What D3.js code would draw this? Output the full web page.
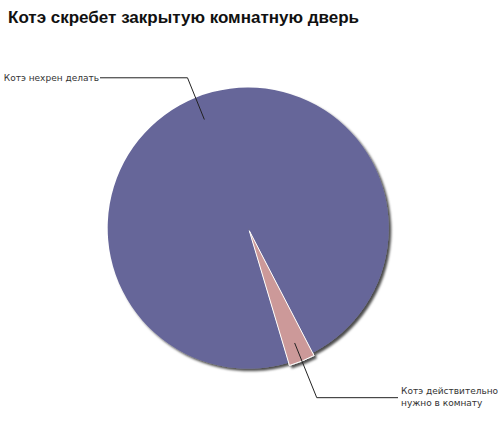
<!DOCTYPE html>
<html>
<head>
<meta charset="utf-8">
<script src="https://cdn.jsdelivr.net/npm/d3@7"></script>
<style>
  body { margin: 0; background: #fff; }
  svg { display: block; }
</style>
</head>
<body>
<svg id="chart" width="500" height="422"></svg>
<script>
// data
var titleText = "Котэ скребет закрытую комнатную дверь";
var categories = ["Котэ нехрен делать", "Котэ действительно нужно в комнату"];
var values = [97, 3];
var colors = ["#666699", "#cc9999"];
var exploded = [0, 3];
// label lines: where the leader leaves the slice, where it bends, where the text goes
var labelInner = [117, 124];
var labelBend = [162, 183];
var labelEndX = [100, 398];

var width = 500, height = 422;
var cx = 248.2, cy = 228, radius = 140.5;
var startDeg = 163.4;

var svg = d3.select("#chart");

var defs = svg.append("defs");
var filt = defs.append("filter")
    .attr("id", "shadow")
    .attr("x", "-10%").attr("y", "-10%")
    .attr("width", "120%").attr("height", "120%");
filt.append("feDropShadow")
    .attr("dx", 2.5)
    .attr("dy", 2.5)
    .attr("stdDeviation", 1.3)
    .attr("flood-color", "#000")
    .attr("flood-opacity", 0.7);

svg.append("text")
    .attr("x", 8)
    .attr("y", 23)
    .attr("font-family", "Liberation Sans, Arial, sans-serif")
    .attr("font-weight", "bold")
    .attr("font-size", 17)
    .attr("fill", "#111")
    .text(titleText);

var pie = d3.pie()
    .sort(null)
    .startAngle(startDeg * Math.PI / 180)
    .endAngle(startDeg * Math.PI / 180 + 2 * Math.PI);

var arcs = pie(values);
var arc = d3.arc().innerRadius(0).outerRadius(radius);

function offset(d, i, r) {
    var a = (d.startAngle + d.endAngle) / 2;
    return [Math.sin(a) * r, -Math.cos(a) * r];
}

var g = svg.append("g")
    .attr("transform", "translate(" + cx + "," + cy + ")")
    .attr("filter", "url(#shadow)");

g.selectAll("path")
    .data(arcs)
    .enter()
    .append("path")
    .attr("d", arc)
    .attr("transform", function (d, i) {
        var o = offset(d, i, exploded[i]);
        return "translate(" + o[0] + "," + o[1] + ")";
    })
    .attr("fill", function (d, i) { return colors[i]; })
    .attr("stroke", function (d, i) { return i == 0 ? "none" : "#fff"; })
    .attr("stroke-width", 1)
    .attr("stroke-linejoin", "round");

// labels
var lg = svg.append("g")
    .attr("transform", "translate(" + cx + "," + cy + ")");

arcs.forEach(function (d, i) {
    var p1 = offset(d, i, labelInner[i]);
    var p2 = offset(d, i, labelBend[i]);
    var p3 = [labelEndX[i] - cx, p2[1]];
    lg.append("polyline")
        .attr("points", [p1, p2, p3].map(function (p) { return p.join(","); }).join(" "))
        .attr("fill", "none")
        .attr("stroke", "#222")
        .attr("stroke-width", 1);

    var leftSide = p3[0] < p2[0];
    // the long label wraps onto two lines
    var lines = i == 1 ? ["Котэ действительно", "нужно в комнату"] : [categories[i]];
    var t = lg.append("text")
        .attr("font-family", "DejaVu Sans, Verdana, sans-serif")
        .attr("font-size", 9)
        .attr("fill", "#333")
        .attr("text-anchor", leftSide ? "end" : "start");
    var x0 = leftSide ? p3[0] - 1 : p3[0] + 3;
    var y0 = p3[1] + 3 - (lines.length - 1) * 6;
    lines.forEach(function (s, k) {
        t.append("tspan")
            .attr("x", x0)
            .attr("y", y0 + k * 12 + (lines.length > 1 ? -1 : 0))
            .text(s);
    });
});
</script>
</body>
</html>
